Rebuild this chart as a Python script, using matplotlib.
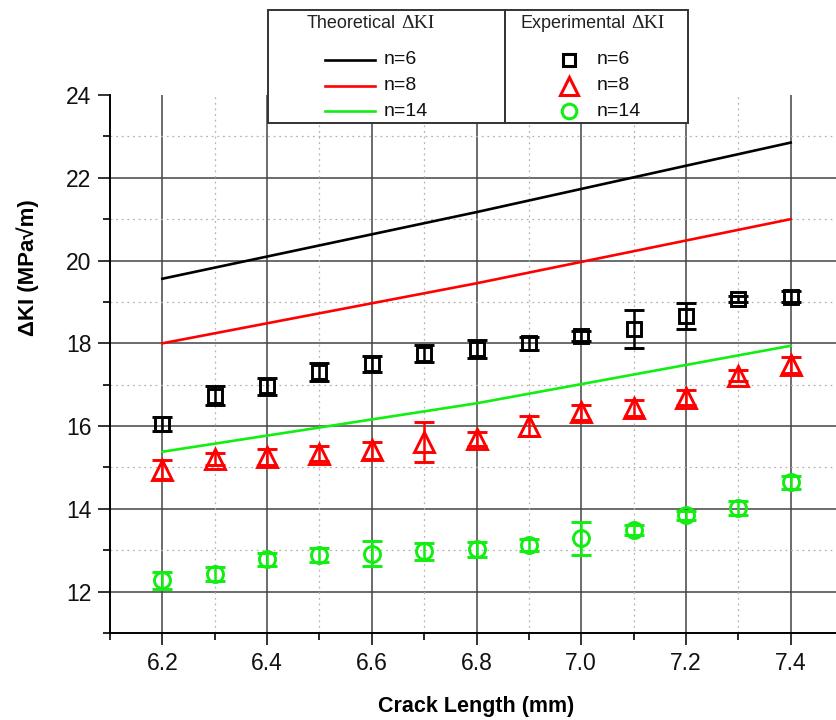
import matplotlib
matplotlib.use("Agg")
import matplotlib.pyplot as plt
from matplotlib.lines import Line2D
from matplotlib.patches import Rectangle
from matplotlib.text import Annotation

plt.rcParams['font.family'] = ['Liberation Sans', 'DejaVu Sans']

# Crack length positions of the measurements (mm)
crack = [6.2, 6.3, 6.4, 6.5, 6.6, 6.7, 6.8, 6.9, 7.0, 7.1, 7.2, 7.3, 7.4]

# Experimental stress intensity factor range (MPa*sqrt(m)) with error bars
exp_n6 = [16.05, 16.73, 16.96, 17.30, 17.50, 17.75, 17.86, 18.00, 18.18, 18.35, 18.66, 19.08, 19.13]
err_n6 = [0.17, 0.23, 0.21, 0.22, 0.20, 0.21, 0.22, 0.16, 0.12, 0.46, 0.31, 0.07, 0.13]
exp_n8 = [14.95, 15.20, 15.25, 15.33, 15.41, 15.61, 15.69, 16.01, 16.33, 16.43, 16.69, 17.22, 17.48]
err_n8 = [0.22, 0.15, 0.20, 0.18, 0.20, 0.48, 0.16, 0.24, 0.18, 0.19, 0.17, 0.13, 0.20]
exp_n14 = [12.27, 12.43, 12.78, 12.88, 12.92, 12.97, 13.02, 13.12, 13.29, 13.50, 13.84, 14.02, 14.64]
err_n14 = [0.20, 0.17, 0.16, 0.17, 0.30, 0.21, 0.18, 0.15, 0.40, 0.12, 0.10, 0.18, 0.15]

# Theoretical curves
crack_theory = [6.2, 6.8, 7.4]
th_n6 = [19.56, 21.17, 22.85]
th_n8 = [18.00, 19.45, 21.00]
th_n14 = [15.38, 16.55, 17.94]

series_labels = ['n=6', 'n=8', 'n=14']
colors = ['#000000', '#ff0000', '#11ee11']

xticks = [6.2, 6.4, 6.6, 6.8, 7.0, 7.2, 7.4]
xticklabels = ['6.2', '6.4', '6.6', '6.8', '7.0', '7.2', '7.4']
yticks = [12, 14, 16, 18, 20, 22, 24]

W, H = 836, 720
fig = plt.figure(figsize=(W / 100, H / 100), dpi=100)
ax = fig.add_axes([110 / W, 1 - 633 / H, (843 - 110) / W, (633 - 95) / H])
ax.set_xlim(6.1, 7.5)
ax.set_ylim(11, 24)

# grid: solid major lines, dotted minor lines
for x in xticks:
    ax.axvline(x, color='#444444', lw=1.1, zorder=1)
for y in yticks[:-1]:
    ax.axhline(y, color='#444444', lw=1.1, zorder=1)
for x in [6.3, 6.5, 6.7, 6.9, 7.1, 7.3]:
    ax.axvline(x, color='#b4b4b4', lw=0.9, ls=(0, (1.5, 3)), zorder=1)
for y in [13, 15, 17, 19, 21, 23]:
    ax.axhline(y, color='#b4b4b4', lw=0.9, ls=(0, (1.5, 3)), zorder=1)

# theoretical lines
for th, c in zip([th_n6, th_n8, th_n14], colors):
    ax.plot(crack_theory, th, color=c, lw=1.9, zorder=3)

# experimental points
markers = ['s', '^', 'o']
msizes = [10.5, 14, 11.5]
for ys, es, c, m, ms in zip([exp_n6, exp_n8, exp_n14], [err_n6, err_n8, err_n14],
                            colors, markers, msizes):
    ax.errorbar(crack, ys, yerr=es, fmt=m, ms=ms, mfc='none', mec=c, mew=2.1,
                ecolor=c, elinewidth=1.8, capsize=7, capthick=2.2, zorder=4)

ax.spines['top'].set_visible(False)
ax.spines['right'].set_visible(False)
for s in ['left', 'bottom']:
    ax.spines[s].set_linewidth(1.4)

ax.set_xticks(xticks)
ax.set_xticklabels(xticklabels)
ax.set_yticks(yticks)
ax.set_xticks([6.1, 6.3, 6.5, 6.7, 6.9, 7.1, 7.3, 7.5], minor=True)
ax.set_yticks([11, 13, 15, 17, 19, 21, 23], minor=True)
ax.tick_params(which='major', direction='out', length=8.5, width=1.2, labelsize=16.5,
               pad=5, colors='#111111')
ax.tick_params(which='minor', direction='out', length=5, width=1.2)

ax.set_xlabel('Crack Length (mm)', fontsize=15.5, fontweight='bold', labelpad=15)
fig.text(28 / W, 1 - 268 / H, 'ΔKI (MPa√m)', rotation=90, ha='center', va='center',
         fontsize=16, fontweight='bold')


# legend table drawn over the top of the plot
def px(x, y):
    return x / W, 1 - y / H


for x0, x1 in [(268, 505), (505, 688)]:
    fig.patches.append(Rectangle(px(x0, 123), (x1 - x0) / W, (123 - 10) / H,
                                 transform=fig.transFigure, facecolor='white',
                                 edgecolor='#333333', lw=1.4, zorder=10))

for x_title, word in [(307, 'Theoretical'), (520, 'Experimental')]:
    t = fig.text(*px(x_title, 23), word, ha='left', va='center', fontsize=13,
                 color='#222222', zorder=11)
    ann = Annotation('ΔKI', xy=(1, 0.5), xycoords=t, xytext=(4, 0),
                     textcoords='offset points', ha='left', va='center',
                     fontsize=14, family='Liberation Serif', color='#222222')
    ann.set_zorder(11)
    fig.add_artist(ann)

rows_y = [60, 86, 111]
for yy, lab, c, m, ms in zip(rows_y, series_labels, colors, markers, [9, 13, 10.5]):
    xa, ya = px(325, yy)
    xb, _ = px(375, yy)
    fig.lines.append(Line2D([xa, xb], [ya, ya], transform=fig.transFigure,
                            color=c, lw=1.9, zorder=11))
    fig.text(*px(384, yy), lab, ha='left', va='center', fontsize=14,
             color='#111111', zorder=11)
    xm, ym = px(569, yy)
    fig.lines.append(Line2D([xm], [ym], transform=fig.transFigure, marker=m, ms=ms,
                            mfc='none', mec=c, mew=2.2, ls='none', zorder=11))
    fig.text(*px(597, yy), lab, ha='left', va='center', fontsize=14,
             color='#111111', zorder=11)

fig.savefig('out.png', dpi=100)
